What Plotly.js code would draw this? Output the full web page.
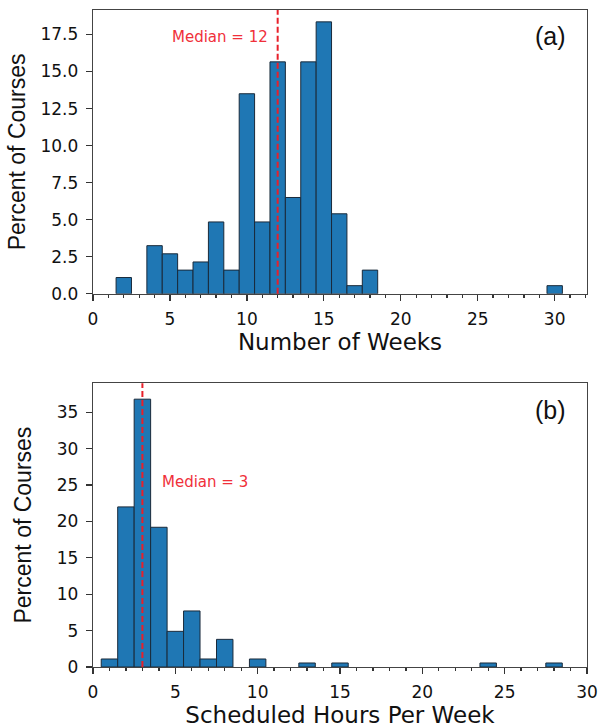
<!DOCTYPE html>
<html><head><meta charset="utf-8">
<script src="https://cdn.plot.ly/plotly-3.0.1.min.js"></script>
<style>body{margin:0;padding:0;background:#fff}</style>
</head><body><div id="chart" style="width:598px;height:728px"></div>
<script>
// Panel (a): number of weeks
const weeksBins = [2, 4, 5, 6, 7, 8, 9, 10, 11, 12, 13, 14, 15, 16, 17, 18, 30];
const weeksPct  = [1.1, 3.25, 2.7, 1.6, 2.15, 4.85, 1.6, 13.5, 4.85, 15.65, 6.5, 15.65, 18.35, 5.4, 0.55, 1.6, 0.55];
const weeksMedian = 12;
// Panel (b): scheduled hours per week
const hoursBins = [1, 2, 3, 4, 5, 6, 7, 8, 10, 13, 15, 24, 28];
const hoursPct  = [1.1, 22, 36.8, 19.2, 4.9, 7.7, 1.1, 3.8, 1.1, 0.55, 0.55, 0.55, 0.55];
const hoursMedian = 3;
const xTitles = ["Number of Weeks", "Scheduled Hours Per Week"];
const yTitle = "Percent of Courses";
const panelLabels = ["(a)", "(b)"];

const barColor = '#1f77b4';
const tickFont = {family: 'DejaVu Sans', size: 17, color: '#111'};
const xTitleFont = {family: 'DejaVu Sans', size: 23, color: '#111'};
const yTitleFont = {family: 'Liberation Sans, Arial', size: 23, color: '#111'};

const traces = [
  {type: 'bar', x: weeksBins, y: weeksPct, width: 1, xaxis: 'x', yaxis: 'y',
   marker: {color: barColor, line: {color: '#1a2a3a', width: 1}}, hoverinfo: 'x+y'},
  {type: 'bar', x: hoursBins, y: hoursPct, width: 1, xaxis: 'x2', yaxis: 'y2',
   marker: {color: barColor, line: {color: '#1a2a3a', width: 1}}, hoverinfo: 'x+y'}
];

function axBase() {
  return {showline: true, mirror: true, linecolor: '#444', linewidth: 1.3,
    showgrid: false, zeroline: false, ticks: 'outside', ticklen: 6, tickwidth: 1.3,
    tickcolor: '#333', tickfont: tickFont, ticklabeloverflow: 'allow'};
}
const xMinor = {ticks: 'outside', ticklen: 3, dtick: 1, tickcolor: '#333', showgrid: false};
const xa = Object.assign(axBase(), {domain: [0, 1], anchor: 'y', range: [0, 32.1], dtick: 5, tick0: 0,
  minor: xMinor, ticklabelstandoff: 3,
  title: {text: xTitles[0], font: xTitleFont, standoff: 2}});
const ya = Object.assign(axBase(), {domain: [0.568, 1], anchor: 'x', range: [0, 19.15], dtick: 2.5,
  tickformat: '.1f', ticklabelstandoff: 4, title: {text: yTitle, font: yTitleFont, standoff: 8}});
const xb = Object.assign(axBase(), {domain: [0, 1], anchor: 'y2', range: [0, 30.001], dtick: 5, tick0: 0,
  minor: xMinor, ticklabelstandoff: 3,
  title: {text: xTitles[1], font: xTitleFont, standoff: 1}});
const yb = Object.assign(axBase(), {domain: [0, 0.432], anchor: 'x2', range: [0, 39.0], dtick: 5,
  ticklabelstandoff: 4, title: {text: yTitle, font: yTitleFont, standoff: 18}});

const layout = {
  width: 598, height: 728, showlegend: false, bargap: 0,
  paper_bgcolor: '#fff', plot_bgcolor: '#fff',
  margin: {l: 93, r: 11, t: 10, b: 61},
  xaxis: xa, yaxis: ya, xaxis2: xb, yaxis2: yb,
  shapes: [
    {type: 'line', xref: 'x', yref: 'y domain', x0: weeksMedian, x1: weeksMedian, y0: 0, y1: 1,
     line: {color: '#e8202a', width: 2, dash: '6px,3px'}},
    {type: 'line', xref: 'x2', yref: 'y2 domain', x0: hoursMedian, x1: hoursMedian, y0: 0, y1: 1,
     line: {color: '#e8202a', width: 2, dash: '6px,3px'}}
  ],
  annotations: [
    {xref: 'x', yref: 'y', x: 11.47, y: 17.3, text: 'Median = ' + weeksMedian, showarrow: false,
     xanchor: 'right', yanchor: 'middle', font: {family: 'DejaVu Sans', size: 15, color: '#f0303a'}},
    {xref: 'x2', yref: 'y2', x: 4.07, y: 25.4, text: 'Median = ' + hoursMedian, showarrow: false,
     xanchor: 'left', yanchor: 'middle', font: {family: 'DejaVu Sans', size: 15, color: '#f0303a'}},
    {xref: 'x domain', yref: 'y domain', x: 0.962, y: 0.908, text: panelLabels[0], showarrow: false,
     xanchor: 'right', yanchor: 'middle', font: {family: 'Liberation Sans, Arial', size: 25, color: '#111'}},
    {xref: 'x2 domain', yref: 'y2 domain', x: 0.962, y: 0.905, text: panelLabels[1], showarrow: false,
     xanchor: 'right', yanchor: 'middle', font: {family: 'Liberation Sans, Arial', size: 25, color: '#111'}}
  ]
};
Plotly.newPlot('chart', traces, layout, {displayModeBar: false, staticPlot: true});
</script></body></html>
